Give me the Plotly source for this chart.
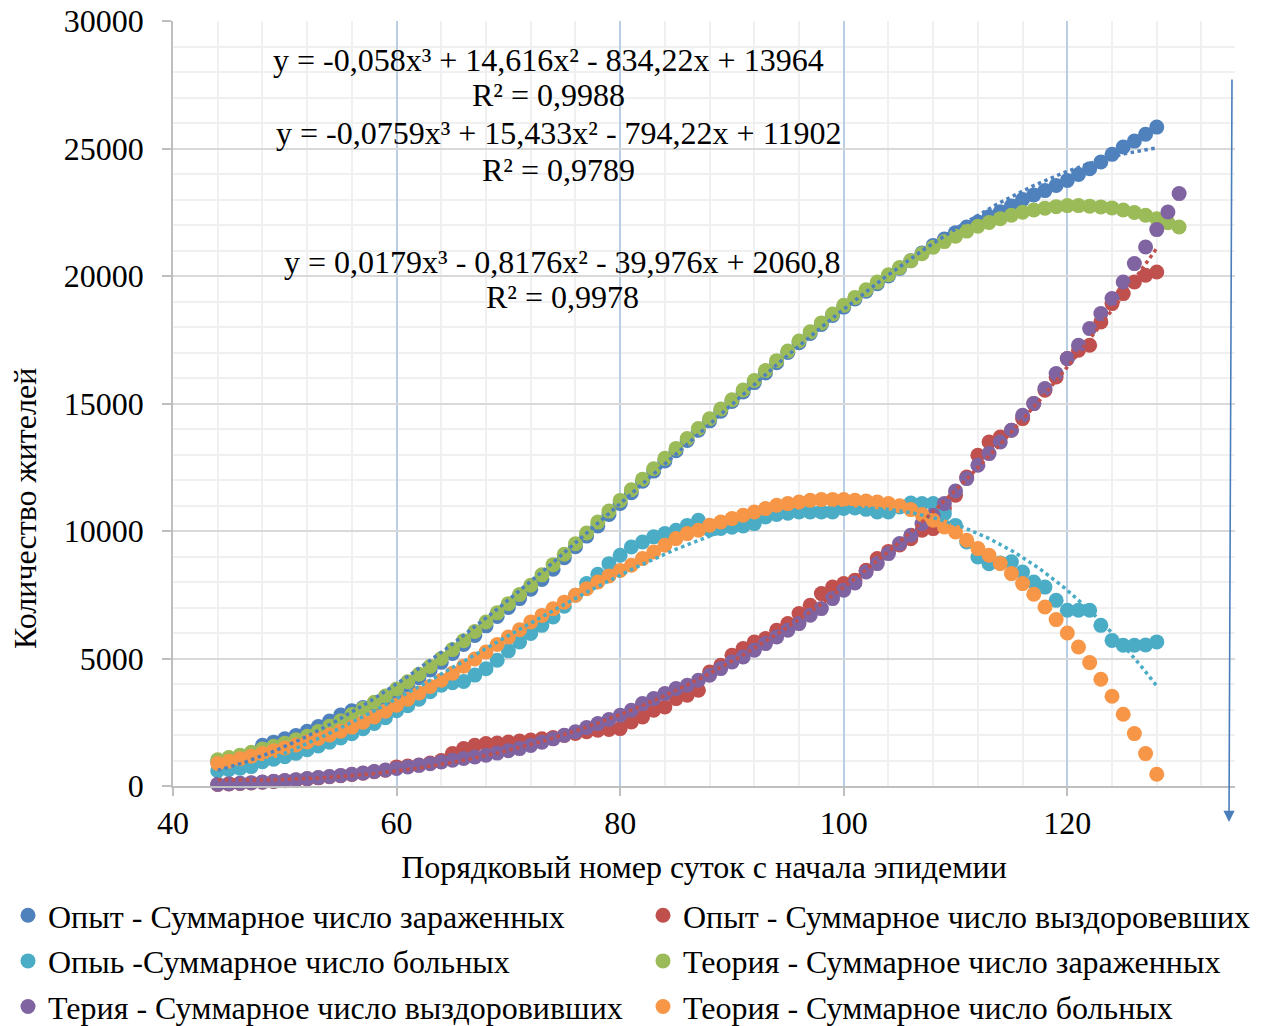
import numpy as np
import plotly.graph_objects as go

# ---------------- data ----------------
days_exp = list(range(44, 129))      # experimental series, days 44..128
days_theory_long = list(range(44, 131))  # theory infected / recovered, days 44..130
days_theory_sick = list(range(44, 129))  # theory sick, days 44..128

opyt_infected = [
    950, 1000, 1050, 1100, 1600, 1720, 1850, 1980, 2150, 2330,
    2550, 2780, 2950, 3080, 3220, 3420, 3680, 3950, 4250, 4550,
    4850, 5200, 5550, 5900, 6280, 6650, 7000, 7350, 7720, 8100,
    8500, 8950, 9380, 9800, 10200, 10650, 11080, 11500, 11950, 12350,
    12750, 13150, 13550, 13950, 14320, 14700, 15080, 15450, 15820, 16200,
    16600, 17000, 17380, 17750, 18100, 18450, 18780, 19100, 19400, 19700,
    20000, 20300, 20600, 20900, 21200, 21450, 21700, 21920, 22120, 22320,
    22520, 22750, 23000, 23180, 23350, 23550, 23750, 23980, 24210, 24470,
    24770, 25060, 25290, 25560, 25840]

opyt_recovered = [
    60, 80, 100, 120, 150, 180, 210, 240, 280, 320,
    360, 400, 450, 500, 560, 620, 750, 780, 820, 900,
    1000, 1270, 1467, 1596, 1663, 1686, 1725, 1765, 1800, 1850,
    1900, 1980, 2060, 2130, 2184, 2220, 2251, 2510, 2706, 2969,
    3098, 3427, 3557, 3753, 4471, 4733, 5125, 5388, 5647, 5780,
    6106, 6369, 6761, 7086, 7545, 7804, 7937, 8067, 8459, 8917,
    9200, 9450, 9700, 10027, 10094, 10878, 11400, 12118, 12969, 13490,
    13686, 13949, 14407, 14996, 15518, 16039, 16761, 17086, 17282, 18196,
    18918, 19310, 19765, 20027, 20157]

opyt_sick = [
    600, 650, 700, 760, 950, 1050, 1150, 1280, 1420, 1570,
    1720, 1880, 2050, 2250, 2450, 2680, 2950, 3150, 3400, 3700,
    3950, 4050, 4100, 4350, 4600, 4930, 5300, 5650, 5980, 6300,
    6630, 7050, 7480, 7940, 8300, 8720, 9050, 9370, 9570, 9770,
    9900, 10030, 10220, 10420, 10050, 10100, 10150, 10200, 10290, 10550,
    10650, 10700, 10750, 10750, 10750, 10750, 10880, 10900, 10850, 10750,
    10750, 10940, 11100, 11080, 11080, 10680, 10220, 9570, 8980, 8720,
    8750, 8790, 8390, 8000, 7800, 7280, 6890, 6890, 6890, 6300,
    5710, 5520, 5520, 5530, 5650]

teoria_infected = [
    1030, 1120, 1210, 1320, 1450, 1560, 1680, 1810, 1950, 2140,
    2340, 2560, 2800, 3040, 3280, 3530, 3800, 4090, 4380, 4690,
    5000, 5350, 5700, 6060, 6430, 6790, 7150, 7510, 7870, 8280,
    8680, 9090, 9500, 9920, 10350, 10780, 11200, 11620, 12030, 12440,
    12850, 13240, 13630, 14020, 14400, 14780, 15150, 15530, 15900, 16290,
    16680, 17060, 17450, 17810, 18160, 18510, 18850, 19160, 19460, 19760,
    20050, 20330, 20600, 20870, 21130, 21350, 21560, 21760, 21950, 22100,
    22250, 22380, 22500, 22590, 22660, 22720, 22760, 22760, 22740, 22710,
    22670, 22590, 22490, 22380, 22250, 22090, 21920]

teoria_recovered = [
    70, 90, 110, 130, 157, 185, 215, 250, 290, 330,
    370, 415, 458, 510, 570, 630, 690, 750, 810, 875,
    941, 1010, 1080, 1140, 1204, 1290, 1380, 1467, 1590, 1720,
    1850, 1988, 2130, 2290, 2447, 2610, 2773, 2969, 3231, 3427,
    3624, 3820, 3949, 4145, 4341, 4604, 4863, 5059, 5322, 5584,
    5843, 6106, 6369, 6694, 6957, 7349, 7675, 7960, 8392, 8721,
    9114, 9506, 9831, 10290, 10616, 11075, 11569, 12055, 12576, 13035,
    13490, 13949, 14537, 14996, 15584, 16173, 16761, 17282, 17937, 18525,
    19114, 19765, 20486, 21137, 21820, 22510, 23231]

teoria_sick = [
    880, 970, 1070, 1170, 1270, 1380, 1490, 1610, 1725, 1860,
    2000, 2150, 2310, 2500, 2710, 2930, 3165, 3400, 3650, 3900,
    4145, 4420, 4700, 4980, 5255, 5550, 5840, 6130, 6430, 6690,
    6950, 7210, 7480, 7740, 8000, 8240, 8450, 8655, 8917, 9176,
    9439, 9702, 9898, 10027, 10224, 10353, 10486, 10616, 10745, 10878,
    11008, 11075, 11137, 11204, 11231, 11231, 11231, 11204, 11176, 11137,
    11080, 10990, 10840, 10650, 10420, 10157, 9961, 9635, 9310, 9047,
    8721, 8329, 7937, 7518, 7020, 6525, 6000, 5451, 4839, 4184,
    3518, 2812, 2055, 1271, 459]

# polynomial trendline coefficients (as printed on the chart), highest power first
trend_infected = [-0.058, 14.616, -834.22, 13964]
trend_sick = [-0.0759, 15.433, -794.22, 11902]
trend_recovered = [0.0179, -0.8176, -39.976, 2060.8]

names = [
    "Опыт - Суммарное число зараженных",
    "Опыт - Суммарное число выздоровевших",
    "Опыь -Суммарное число больных",
    "Теория - Суммарное число зараженных",
    "Терия - Суммарное число выздоровивших",
    "Теория - Суммарное число больных",
]

C_BLUE = "#4F81BD"
C_RED = "#C0504D"
C_CYAN = "#4BACC6"
C_GREEN = "#9BBB59"
C_PURPLE = "#8064A2"
C_ORANGE = "#F79646"

FONT = "Liberation Serif, Times New Roman, serif"
FS = 32
MS = 15

fig = go.Figure()

series = [
    (days_exp, opyt_infected, names[0], C_BLUE, "legend"),
    (days_exp, opyt_recovered, names[1], C_RED, "legend2"),
    (days_exp, opyt_sick, names[2], C_CYAN, "legend"),
    (days_theory_long, teoria_infected, names[3], C_GREEN, "legend2"),
    (days_theory_long, teoria_recovered, names[4], C_PURPLE, "legend"),
    (days_theory_sick, teoria_sick, names[5], C_ORANGE, "legend2"),
]
for i, (xs, ys, nm, col, lg) in enumerate(series):
    fig.add_trace(go.Scatter(
        x=xs, y=ys, name=nm, mode="markers",
        marker=dict(size=MS, color=col, line=dict(width=0)),
        legend=lg, legendgroup="g%d" % i, cliponaxis=False))

# trendlines (dotted), drawn on top
xt = np.linspace(44, 128, 300)
for coefs, col in [(trend_infected, C_BLUE), (trend_sick, C_CYAN), (trend_recovered, C_RED)]:
    fig.add_trace(go.Scatter(
        x=xt, y=np.polyval(coefs, xt), mode="lines",
        line=dict(color=col, width=3.5, dash="dot"),
        showlegend=False, hoverinfo="skip"))

# ---------------- layout ----------------
OFF = 0  # page body margin removed via post_script below
W, H = 1263, 1026
L, T = 173, 21
R = W - 1235
B = H - 786
pw, ph = W - L - R, H - T - B

def px(xs):
    """screen x -> paper x"""
    return (xs - OFF - L) / pw

def py(ys):
    """screen y -> paper y"""
    return (H - B - (ys - OFF)) / ph

annots = []
eq_texts = [
    ("y = -0,058x³ + 14,616x² - 834,22x + 13964", 548, 60),
    ("R² = 0,9988", 548, 95),
    ("y = -0,0759x³ + 15,433x² - 794,22x + 11902", 558, 133),
    ("R² = 0,9789", 558, 170),
    ("y = 0,0179x³ - 0,8176x² - 39,976x + 2060,8", 562, 262),
    ("R² = 0,9978", 562, 297),
]
for t, xx, yy in eq_texts:
    annots.append(dict(text=t, x=px(xx), y=py(yy), xref="paper", yref="paper",
                       xanchor="center", yanchor="middle", showarrow=False,
                       font=dict(family=FONT, size=FS, color="black")))

# y axis title (positioned as in original)
annots.append(dict(text="Количество жителей", x=px(25), y=py(509), xref="paper", yref="paper",
                   xanchor="center", yanchor="middle", showarrow=False, textangle=-90,
                   font=dict(family=FONT, size=FS, color="black")))

# vertical arrow on the right
annots.append(dict(text="", x=px(1229), y=py(822), xref="paper", yref="paper",
                   ax=3, ay=-744, axref="pixel", ayref="pixel",
                   showarrow=True, arrowhead=2, arrowsize=1.4, arrowwidth=1.6,
                   arrowcolor="#4A7EBB"))

fig.update_layout(
    width=W, height=H,
    margin=dict(l=L, r=R, t=T, b=B, autoexpand=False),
    paper_bgcolor="white", plot_bgcolor="white",
    font=dict(family=FONT, size=FS, color="black"),
    showlegend=True,
    legend=dict(x=px(8), y=py(888), xanchor="left", yanchor="top",
                orientation="v", font=dict(family=FONT, size=FS, color="black"),
                tracegroupgap=1, bgcolor="rgba(0,0,0,0)", itemwidth=30),
    legend2=dict(x=px(643), y=py(888), xanchor="left", yanchor="top",
                 orientation="v", font=dict(family=FONT, size=FS, color="black"),
                 tracegroupgap=1, bgcolor="rgba(0,0,0,0)", itemwidth=30),
    annotations=annots,
)

fig.update_xaxes(
    range=[40, 135], tick0=40, dtick=20,
    showgrid=True, gridcolor="#B9CDE5", gridwidth=1.5,
    minor=dict(dtick=4, tick0=40, showgrid=True, gridcolor="#F0F0F0", gridwidth=1.5),
    showline=True, linecolor="#BFBFBF", linewidth=1.5,
    ticks="outside", ticklen=8, tickcolor="#BFBFBF", tickwidth=1.5,
    tickfont=dict(family=FONT, size=FS, color="black"),
    ticklabeloverflow="allow",
    title=dict(text="Порядковый номер суток с начала эпидемии",
               font=dict(family=FONT, size=FS, color="black"), standoff=15),
    zeroline=False,
)
fig.update_yaxes(
    range=[0, 30000], tick0=0, dtick=5000, tickformat="d",
    showgrid=True, gridcolor="#D9D9D9", gridwidth=1.5,
    minor=dict(dtick=1000, showgrid=True, gridcolor="#F0F0F0", gridwidth=1.5),
    showline=True, linecolor="#BFBFBF", linewidth=1.5,
    ticks="outside", ticklen=9, tickcolor="#BFBFBF", tickwidth=1.5,
    tickfont=dict(family=FONT, size=FS, color="black"),
    ticklabelstandoff=12, ticklabeloverflow="allow",
    zeroline=False,
)

fig.write_html("out.html",
               config={"displayModeBar": False},
               post_script="document.body.style.margin='0';document.body.style.overflow='hidden';")
